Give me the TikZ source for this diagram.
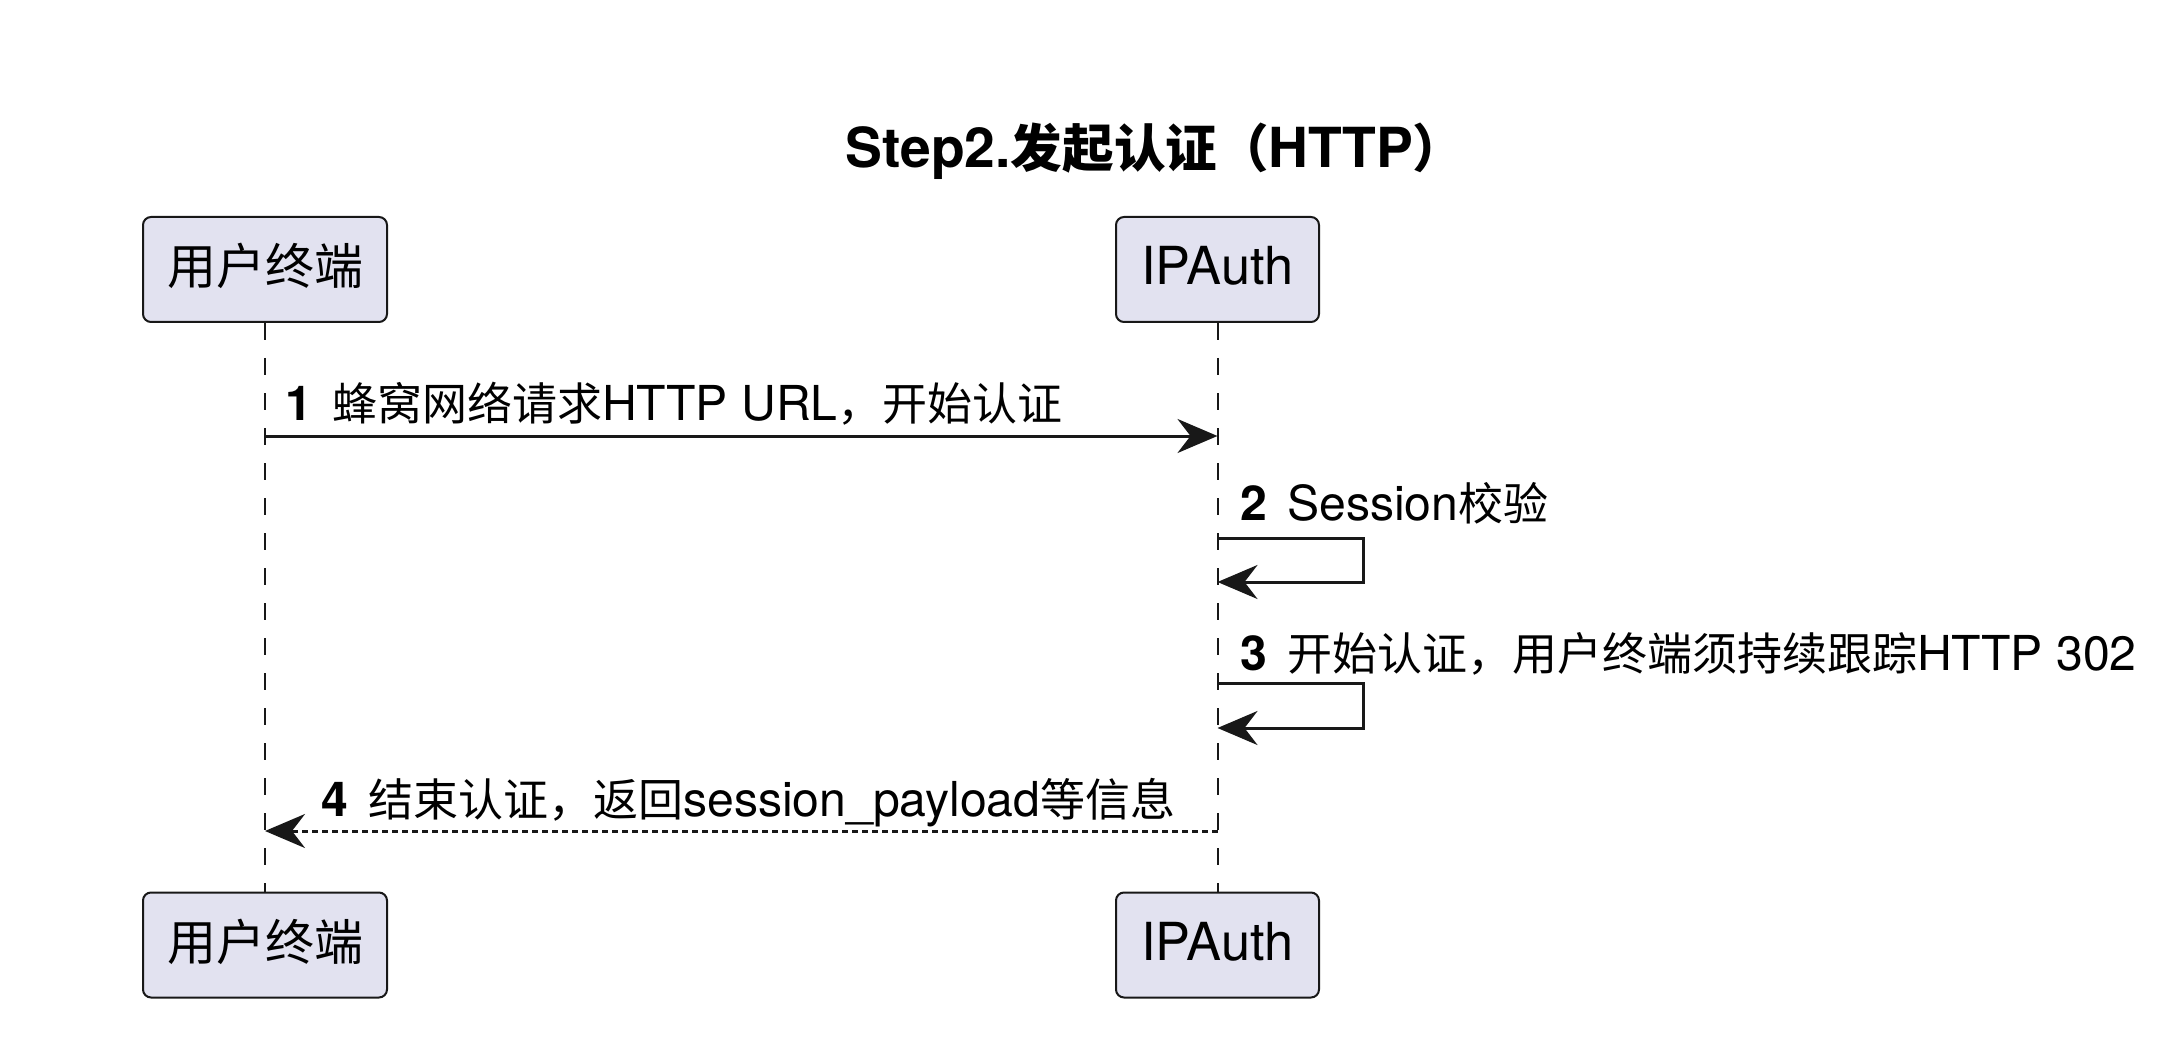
\documentclass[tikz,border=0pt]{standalone}
\usepackage{fontspec}
\setmainfont{TeX Gyre Heros}[Scale=1.07]
\newfontfamily\zh{Noto Sans CJK SC}
\usetikzlibrary{arrows.meta}
\definecolor{boxfill}{HTML}{E2E2F0}
\definecolor{ink}{HTML}{181818}
\newcommand\stepno[1]{\textbf{#1}\hspace{10pt}}

\begin{document}
\begin{tikzpicture}[x=0.5pt,y=-0.5pt,>={Stealth[length=20pt,width=17pt,inset=6.5pt]},
  actor/.style={draw=ink,fill=boxfill,rounded corners=4pt,line width=1pt,
    minimum height=52.5pt,inner sep=0pt,text height=19pt,text depth=3.5pt,
    font=\fontsize{24.5}{28}\selectfont},
  lifeline/.style={ink,line width=1pt,dash pattern=on 8.5pt off 9pt},
  msg/.style={->,ink,line width=1.5pt},
  reply/.style={msg,dash pattern=on 3pt off 2pt},
  msglabel/.style={anchor=base west,inner sep=0pt,font=\fontsize{22.5}{26}\selectfont}]
  \useasboundingbox (0,0) rectangle (2180,1064);

  \node[anchor=base,inner sep=0pt,font=\fontsize{25.8}{30}\selectfont\bfseries] (title)
    at (1155,168) {Step2.{\zh 发起认证（}HTTP{\zh ）}};

  % participants
  \node[actor,minimum width=122pt] (userT) at (265,269.5) {\zh 用户终端};
  \node[actor,minimum width=101.5pt] (authT) at (1217.5,269.5) {IPAuth};
  \node[actor,minimum width=122pt] (userB) at (265,945) {\zh 用户终端};
  \node[actor,minimum width=101.5pt] (authB) at (1217.5,945) {IPAuth};
  \draw[lifeline] (userT) -- (userB);
  \draw[lifeline] (authT) -- (authB);

  % messages
  \coordinate (m1) at (0,436);
  \coordinate (s2) at (1363,538);
  \coordinate (s2e) at (0,582);
  \coordinate (s3) at (1363,683);
  \coordinate (s3e) at (0,728);
  \coordinate (m4) at (0,831);

  \draw[msg] (userT |- m1) -- (authT |- m1);
  \node[msglabel] (l1) at (285,420) {\stepno{1}{\zh 蜂窝网络请求}HTTP URL{\zh ，开始认证}};

  \draw[msg] (authT |- s2) -- (s2) |- (authT |- s2e);
  \node[msglabel] (l2) at (1240,520) {\stepno{2}Session{\zh 校验}};

  \draw[msg] (authT |- s3) -- (s3) |- (authT |- s3e);
  \node[msglabel] (l3) at (1240,670) {\stepno{3}{\zh 开始认证，用户终端须持续跟踪}HTTP 302};

  \draw[reply] (authT |- m4) -- (userT |- m4);
  \node[msglabel] (l4) at (321,816) {\stepno{4}{\zh 结束认证，返回}session\_payload{\zh 等信息}};
\end{tikzpicture}
\end{document}
